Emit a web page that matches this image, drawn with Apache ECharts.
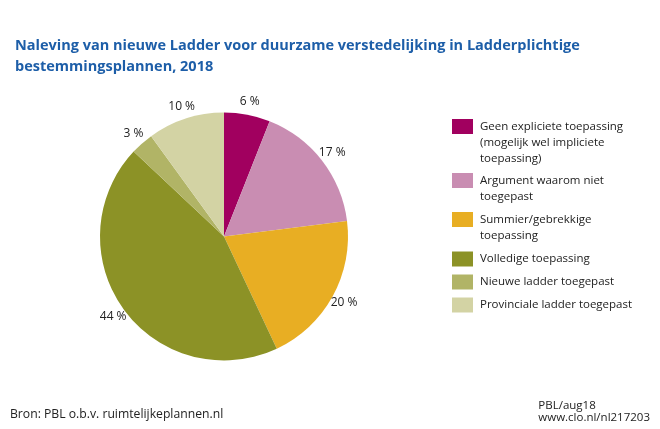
<!DOCTYPE html>
<html><head><meta charset="utf-8">
<script src="https://cdn.jsdelivr.net/npm/echarts@6/dist/echarts.min.js"></script>
<style>html,body{margin:0;padding:0;background:#fff}#c{width:660px;height:429px}</style>
</head><body><div id="c"></div>
<script>
const titleText = 'Naleving van nieuwe Ladder voor duurzame verstedelijking in Ladderplichtige\nbestemmingsplannen, 2018';
const sourceText = 'Bron: PBL o.b.v. ruimtelijkeplannen.nl';
const creditText = 'PBL/aug18\nwww.clo.nl/nl217203';
const categories = [
  'Geen expliciete toepassing\n(mogelijk wel impliciete\ntoepassing)',
  'Argument waarom niet\ntoegepast',
  'Summier/gebrekkige\ntoepassing',
  'Volledige toepassing',
  'Nieuwe ladder toegepast',
  'Provinciale ladder toegepast'
];
const values = [6, 17, 20, 44, 3, 10];
const colors = ['#a1005f', '#c98db2', '#e8ae23', '#8c9226', '#b1b466', '#d3d3a4'];

const FONT = 'Open Sans';
const chart = echarts.init(document.getElementById('c'), null, {renderer: 'canvas'});
const mainData = categories.map((n, i) => ({name: n, value: values[i], itemStyle: {color: colors[i]}}));
const labelData = categories.map((n, i) => ({name: n, value: values[i]}));

function legendBase(top, h, items, iconPath) {
  return {
    left: 447, top: top, orient: 'vertical',
    itemWidth: 21, itemHeight: h, itemGap: 7,
    icon: iconPath,
    selectedMode: false,
    data: items,
    itemStyle: {borderWidth: 0},
    textStyle: {fontFamily: FONT, fontSize: 11.5, color: '#222', lineHeight: 16, padding: [0, 0, 0, 2]}
  };
}

chart.setOption({
  animation: false,
  title: [{
    text: titleText, left: 10, top: 30,
    textStyle: {fontFamily: FONT, fontSize: 14.5, fontWeight: 'bold', color: '#1d5ea8', lineHeight: 21}
  }],
  graphic: [
    {type: 'text', left: 10, top: 409, style: {text: sourceText, font: '12.2px ' + FONT, fill: '#222'}},
    {type: 'text', right: 10, top: 400, style: {text: creditText, font: '11.5px ' + FONT, fill: '#222', align: 'right', lineHeight: 12}}
  ],
  legend: [
    legendBase(114, 48, [categories[0]], 'path://M0,0H21V15H0Z M0,48L0.01,48'),
    legendBase(168, 32, [categories[1], categories[2]], 'path://M0,0H21V15H0Z M0,32L0.01,32'),
    legendBase(246, 15, [categories[3], categories[4], categories[5]], 'rect')
  ],
  series: [
    {
      type: 'pie', center: [224, 236.5], radius: 124, startAngle: 90, clockwise: true,
      label: {show: false}, labelLine: {show: false}, silent: true,
      emphasis: {disabled: true},
      data: mainData
    },
    {
      type: 'pie', center: [224, 236.5], radius: [124, 144], startAngle: 90, clockwise: true,
      silent: true, legendHoverLink: false, emphasis: {disabled: true},
      itemStyle: {color: 'rgba(0,0,0,0)', borderWidth: 0},
      label: {show: true, position: 'inside', formatter: '{c} %', color: '#222', fontFamily: FONT, fontSize: 12},
      labelLine: {show: false},
      data: labelData
    }
  ]
});
</script></body></html>
